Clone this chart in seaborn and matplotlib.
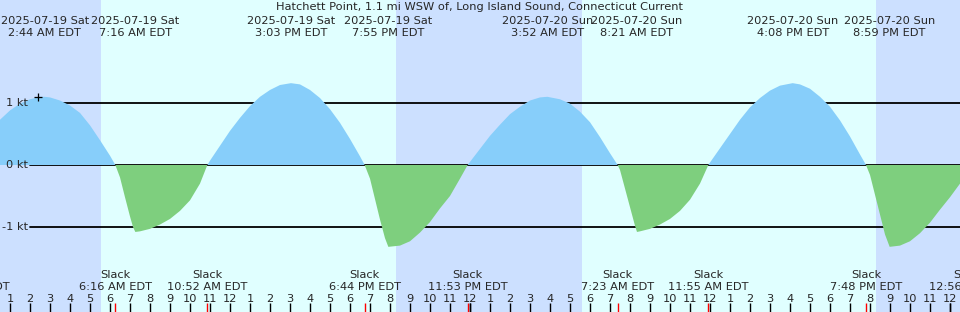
import matplotlib
matplotlib.use("Agg")
import matplotlib.pyplot as plt
import seaborn as sns

# tidal current, Hatchett Point - hours counted from 2025-07-19 00:00 EDT
title = "Hatchett Point, 1.1 mi WSW of, Long Island Sound, Connecticut Current"

# current speed (knots, flood positive)
hours = [0.5, 1.0, 1.5, 2.0, 2.5, 2.733, 3.0, 3.5, 4.0, 4.5, 5.0, 5.5, 6.0, 6.267,
         6.5, 6.75, 7.0, 7.15, 7.267, 7.5, 8.0, 8.5, 9.0, 9.5, 10.0, 10.5, 10.867,
         11.0, 11.5, 12.0, 12.5, 13.0, 13.5, 14.0, 14.5, 15.05, 15.5, 16.0, 16.5,
         17.0, 17.5, 18.0, 18.5, 18.733,
         19.0, 19.25, 19.5, 19.75, 19.917, 20.5, 21.0, 21.5, 22.0, 22.5, 23.0,
         23.5, 23.883,
         24.0, 24.5, 25.0, 25.5, 26.0, 26.5, 27.0, 27.5, 27.867, 28.5, 29.0, 29.5,
         30.0, 30.5, 31.0, 31.383,
         31.5, 31.75, 32.0, 32.25, 32.35, 32.5, 33.0, 33.5, 34.0, 34.5, 35.0, 35.5,
         35.917,
         36.0, 36.5, 37.0, 37.5, 38.0, 38.5, 39.0, 39.5, 40.133, 40.5, 41.0, 41.5,
         42.0, 42.5, 43.0, 43.5, 43.8,
         44.0, 44.25, 44.5, 44.75, 44.983, 45.5, 46.0, 46.5, 47.0, 47.5, 48.0, 48.5]
speed = [0.73, 0.88, 0.99, 1.06, 1.10, 1.10, 1.09, 1.04, 0.96, 0.84, 0.64, 0.40, 0.15, 0.0,
         -0.20, -0.52, -0.83, -1.00, -1.08, -1.07, -1.03, -0.96, -0.87, -0.74, -0.57, -0.30, 0.0,
         0.07, 0.31, 0.55, 0.76, 0.95, 1.10, 1.21, 1.29, 1.32, 1.30, 1.21, 1.08,
         0.90, 0.68, 0.42, 0.14, 0.0,
         -0.22, -0.55, -0.88, -1.18, -1.32, -1.30, -1.23, -1.09, -0.92, -0.70, -0.50,
         -0.22, 0.0,
         0.05, 0.26, 0.47, 0.65, 0.82, 0.94, 1.04, 1.09, 1.10, 1.06, 0.99, 0.86,
         0.69, 0.45, 0.19, 0.0,
         -0.08, -0.38, -0.68, -0.98, -1.08, -1.07, -1.03, -0.96, -0.87, -0.74, -0.56, -0.30,
         0.0,
         0.04, 0.27, 0.50, 0.73, 0.93, 1.08, 1.20, 1.28, 1.32, 1.30, 1.23, 1.10,
         0.94, 0.72, 0.46, 0.17, 0.0,
         -0.16, -0.48, -0.80, -1.12, -1.32, -1.30, -1.23, -1.10, -0.93, -0.72, -0.52, -0.30]

max_hours = [2.733, 7.267, 15.05, 19.917, 27.867, 32.35, 40.133, 44.983]
max_dates = ["2025-07-19 Sat"] * 4 + ["2025-07-20 Sun"] * 4
max_times = ["2:44 AM EDT", "7:16 AM EDT", "3:03 PM EDT", "7:55 PM EDT",
             "3:52 AM EDT", "8:21 AM EDT", "4:08 PM EDT", "8:59 PM EDT"]

slack_hours = [-1.0, 6.267, 10.867, 18.733, 23.883, 31.383, 35.917, 43.8, 48.933]
slack_times = ["11:00 PM EDT", "6:16 AM EDT", "10:52 AM EDT", "6:44 PM EDT",
               "11:53 PM EDT", "7:23 AM EDT", "11:55 AM EDT", "7:48 PM EDT",
               "12:56 AM EDT"]

sunrise = [5.55, 29.58]
sunset = [20.3, 44.3]

levels = [1, 0, -1]
level_labels = ["1 kt", "0 kt", "-1 kt"]

now_hour, now_speed = 2.42, 1.09

sns.set_theme(style="white")
plt.rcParams["font.family"] = ["DejaVu Sans"]

night = "#cce0ff"
day = "#e0ffff"
flood = "#87cefa"
ebb = "#7ecf7e"
fs = 8.2

fig = plt.figure(figsize=(9.6, 3.12), dpi=100, facecolor=night)
ax = fig.add_axes([0, 0, 1, 1])
ax.set_axis_off()

for a, b in zip(sunrise, sunset):
    ax.axvspan(a, b, color=day, lw=0, zorder=0)

for lv, lab in zip(levels, level_labels):
    ax.axhline(lv, xmin=30 / 960, xmax=1, color="black", lw=1.3, zorder=1)
    ax.text(28 / 960, lv, lab, transform=ax.get_yaxis_transform(),
            ha="right", va="center", fontsize=fs, zorder=5)

ax.fill_between(hours, speed, 0, where=[s >= 0 for s in speed],
                color=flood, lw=0, interpolate=True, zorder=2)
ax.fill_between(hours, speed, 0, where=[s <= 0 for s in speed],
                color=ebb, lw=0, interpolate=True, zorder=2)

ax.plot([now_hour], [now_speed], marker="+", color="black", ms=6,
        mew=0.9, zorder=6)

# hour ticks along the bottom
tick_hours = list(range(0, 50))
hour_labels = [str((h - 1) % 12 + 1) for h in tick_hours]
sns.rugplot(x=tick_hours, height=9 / 312, color="black", lw=1,
            expand_margins=False, ax=ax, zorder=3)
sns.rugplot(x=[24, 48], height=9 / 312, color="black", lw=2.4,
            expand_margins=False, ax=ax, zorder=4)
sns.rugplot(x=slack_hours, height=9 / 312, color="red", lw=1,
            expand_margins=False, ax=ax, zorder=3)

tr = ax.get_xaxis_transform()
for h, lab in zip(tick_hours, hour_labels):
    ax.text(h, 1 - 302 / 312, lab, transform=tr, ha="center", va="baseline",
            fontsize=fs)

for h, t in zip(slack_hours, slack_times):
    ax.text(h, 1 - 278.5 / 312, "Slack", transform=tr, ha="center",
            va="baseline", fontsize=fs)
    ax.text(h, 1 - 290 / 312, t, transform=tr, ha="center", va="baseline",
            fontsize=fs)

for h, d, t in zip(max_hours, max_dates, max_times):
    ax.text(h, 1 - 24 / 312, d, transform=tr, ha="center", va="baseline",
            fontsize=fs)
    ax.text(h, 1 - 36 / 312, t, transform=tr, ha="center", va="baseline",
            fontsize=fs)

ax.text(0.5, 1 - 10.5 / 312, title, transform=ax.transAxes, ha="center",
        va="baseline", fontsize=fs)

ax.set_xlim(0.5, 48.5)
ax.set_ylim(-147 / 62, 165 / 62)

fig.savefig("out.png", dpi=100, facecolor=night)
